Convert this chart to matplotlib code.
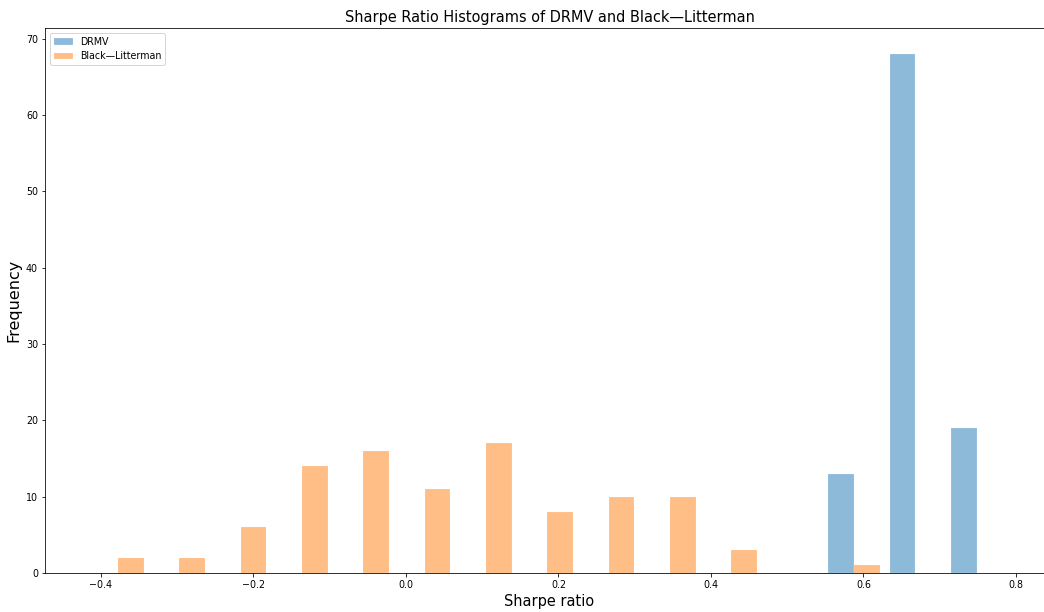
import numpy as np
import matplotlib
matplotlib.use("Agg")
import matplotlib.pyplot as plt

# histogram counts per bin (15 equal bins over the Sharpe ratio range)
sr_min = -0.418
sr_max = 0.789
n_bins = 15
drmv_counts = [0, 0, 0, 0, 0, 0, 0, 0, 0, 0, 0, 0, 13, 68, 19]
bl_counts = [2, 2, 6, 14, 16, 11, 17, 8, 10, 10, 3, 0, 1, 0, 0]
labels = ["DRMV", "Black\u2014Litterman"]

edges = np.linspace(sr_min, sr_max, n_bins + 1)
centers = (edges[:-1] + edges[1:]) / 2

fig = plt.figure(figsize=(14.5, 8.5), dpi=72)
ax = fig.add_axes([0.0431, 0.0637, 0.9665, 0.8905])

ax.hist([centers, centers], bins=edges, weights=[drmv_counts, bl_counts],
        alpha=0.5, label=labels, rwidth=0.84, edgecolor="white", linewidth=0.3)
ax.set_xlim(-0.4734, 0.85)

ax.spines["right"].set_visible(False)
ax.set_title("Sharpe Ratio Histograms of DRMV and Black\u2014Litterman", fontsize=14.5)
ax.set_xlabel("Sharpe ratio", fontsize=14.5)
ax.set_ylabel("Frequency", fontsize=16)
ax.tick_params(labelsize=9.5)
ax.legend(loc="upper left", fontsize=9.5)

fig.savefig("out.png", dpi=72)
